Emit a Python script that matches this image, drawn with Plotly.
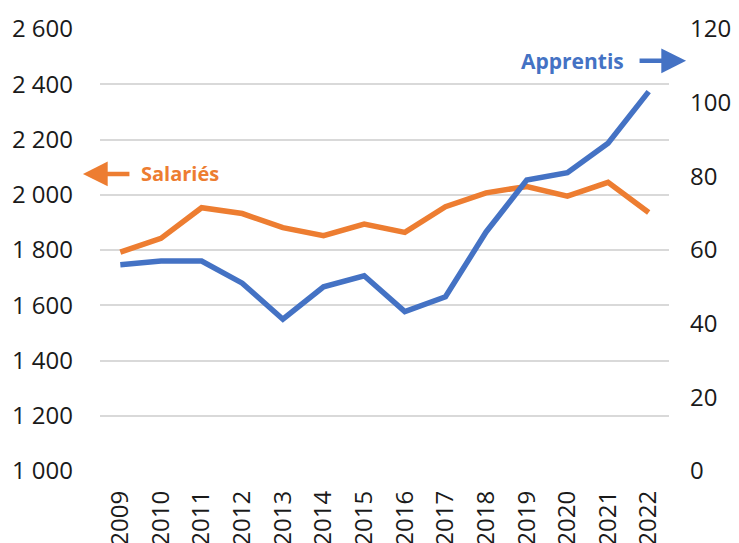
import plotly.graph_objects as go

# --- Données ---
years = [str(y) for y in range(2009, 2023)]
salaries = [1792, 1842, 1953, 1932, 1881, 1852, 1894, 1864, 1957, 2007, 2030, 1995, 2045, 1936]
apprentis = [56.0, 57.0, 57.0, 51.0, 41.2, 50.0, 53.0, 43.3, 47.3, 64.9, 79.0, 81.0, 89.0, 103.0]

left_ticks = list(range(1000, 2601, 200))
left_labels = [f"{v:,}".replace(",", " ") for v in left_ticks]
right_ticks = list(range(0, 121, 20))

ORANGE = "#ED7D31"
BLUE = "#4472C4"
FONT = "Open Sans"

fig = go.Figure()

fig.add_trace(go.Scatter(
    x=years, y=salaries, mode="lines", name="Salariés",
    line=dict(color=ORANGE, width=5.5), yaxis="y"
))
fig.add_trace(go.Scatter(
    x=years, y=apprentis, mode="lines", name="Apprentis",
    line=dict(color=BLUE, width=5.5), yaxis="y2"
))

# la page ajoute une marge de 8 px autour du graphique
fig.update_layout(
    width=731, height=535,
    margin=dict(l=92, r=70, t=21, b=72),
    paper_bgcolor="white", plot_bgcolor="white",
    showlegend=False,
    font=dict(family=FONT, size=24, color="#1a1a1a"),
    xaxis=dict(
        type="category", range=[-0.5, 13.5], tickangle=-90,
        showgrid=False, showline=False, ticks="", automargin=False,
        ticklabelstandoff=14,
    ),
    yaxis=dict(
        range=[1000, 2600], tickvals=left_ticks, ticktext=left_labels,
        showgrid=True, gridcolor="#D9D9D9", gridwidth=2,
        zeroline=False, showline=False, ticks="", automargin=False,
        ticklabelstandoff=26,
    ),
    yaxis2=dict(
        range=[0, 120], tickvals=right_ticks, overlaying="y", side="right",
        showgrid=False, zeroline=False, showline=False, ticks="", automargin=False,
        ticklabelstandoff=20,
    ),
)

# --- Étiquettes fléchées ---
fig.add_annotation(
    xref="paper", yref="paper", x=-0.03, y=0.672, ax=48, ay=0,
    text="", showarrow=True, arrowhead=2, arrowsize=1.1, arrowwidth=4.5,
    arrowcolor=ORANGE,
)
fig.add_annotation(
    xref="paper", yref="paper", x=0.068, y=0.672, xanchor="left", yanchor="middle",
    text="<b>Salariés</b>", showarrow=False,
    font=dict(color=ORANGE, size=20, family=FONT),
)
fig.add_annotation(
    xref="paper", yref="paper", x=1.03, y=0.928, ax=-48, ay=0,
    text="", showarrow=True, arrowhead=2, arrowsize=1.1, arrowwidth=4.5,
    arrowcolor=BLUE,
)
fig.add_annotation(
    xref="paper", yref="paper", x=0.925, y=0.928, xanchor="right", yanchor="middle",
    text="<b>Apprentis</b>", showarrow=False,
    font=dict(color=BLUE, size=21, family=FONT),
)

fig.write_html("out.html")
